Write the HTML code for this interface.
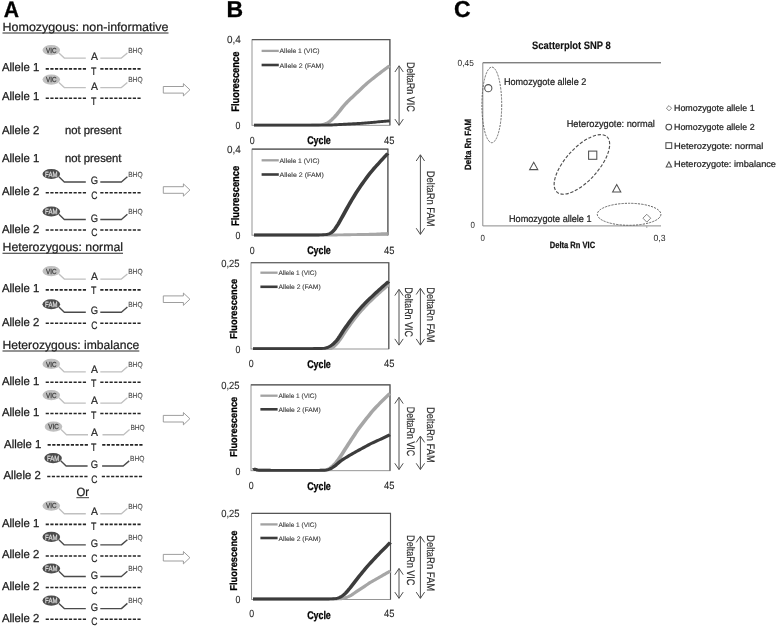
<!DOCTYPE html>
<html lang="en">
<head>
<meta charset="utf-8">
<title>Allele-specific qPCR: genotype patterns, amplification curves and scatterplot</title>
<style>
html,body{margin:0;padding:0;background:#fff;}
body{width:778px;height:627px;overflow:hidden;font-family:'Liberation Sans', sans-serif;}
svg{display:block;font-family:"Liberation Sans",sans-serif;filter:grayscale(1);}
svg text{font-family:"Liberation Sans",sans-serif;white-space:pre;text-rendering:geometricPrecision;}
</style>
</head>
<body>
<svg width="778" height="627" viewBox="0 0 778 627">
<rect width="778" height="627" fill="#fff"/>
<g id="panelA">
<text x="3.70" y="17.30" font-size="22.2" fill="#000" stroke="#000" stroke-width="0.3" font-weight="700" textLength="15.30" lengthAdjust="spacingAndGlyphs">A</text>
<text x="2.50" y="31.20" font-size="12.0" fill="#1c1c1c" stroke="#1c1c1c" stroke-width="0.22" textLength="166.00" lengthAdjust="spacingAndGlyphs">Homozygous: non-informative</text>
<path d="M2.50 33.00 H168.50" stroke="#2a2a2a" stroke-width="1.1"/>
<ellipse cx="51.30" cy="50.10" rx="8.8" ry="5.1" fill="#c0c0c0"/>
<text x="46.00" y="52.70" font-size="7.3" fill="#383838" stroke="#383838" stroke-width="0.25" textLength="10.50" lengthAdjust="spacingAndGlyphs">VIC</text>
<path d="M58.90 52.90 L64.30 58.10 L85.80 58.10" fill="none" stroke="#c0c0c0" stroke-width="1.35" stroke-linejoin="round"/>
<path d="M100.30 58.10 L121.40 58.10 L127.40 52.90" fill="none" stroke="#c0c0c0" stroke-width="1.35" stroke-linejoin="round"/>
<text x="90.90" y="59.70" font-size="10.8" fill="#1c1c1c" stroke="#1c1c1c" stroke-width="0.2" textLength="6.90" lengthAdjust="spacingAndGlyphs">A</text>
<text x="128.20" y="52.95" font-size="7.4" fill="#4c4c4c" stroke="#4c4c4c" stroke-width="0.12" textLength="14.40" lengthAdjust="spacingAndGlyphs">BHQ</text>
<text x="2.00" y="71.00" font-size="11.6" fill="#1c1c1c" stroke="#1c1c1c" stroke-width="0.28" textLength="37.20" lengthAdjust="spacingAndGlyphs">Allele 1</text>
<path d="M45.70 68.90 H86.20 M100.30 68.90 H140.80" stroke="#262626" stroke-width="1.6" stroke-dasharray="3.2 1.44" fill="none"/>
<text x="91.00" y="74.50" font-size="10.8" fill="#1c1c1c" stroke="#1c1c1c" stroke-width="0.2" textLength="5.40" lengthAdjust="spacingAndGlyphs">T</text>
<ellipse cx="51.30" cy="79.60" rx="8.8" ry="5.1" fill="#c0c0c0"/>
<text x="46.00" y="82.20" font-size="7.3" fill="#383838" stroke="#383838" stroke-width="0.25" textLength="10.50" lengthAdjust="spacingAndGlyphs">VIC</text>
<path d="M58.90 82.40 L64.30 87.60 L85.80 87.60" fill="none" stroke="#c0c0c0" stroke-width="1.35" stroke-linejoin="round"/>
<path d="M100.30 87.60 L121.40 87.60 L127.40 82.40" fill="none" stroke="#c0c0c0" stroke-width="1.35" stroke-linejoin="round"/>
<text x="90.90" y="90.10" font-size="10.8" fill="#1c1c1c" stroke="#1c1c1c" stroke-width="0.2" textLength="6.90" lengthAdjust="spacingAndGlyphs">A</text>
<text x="128.20" y="82.45" font-size="7.4" fill="#4c4c4c" stroke="#4c4c4c" stroke-width="0.12" textLength="14.40" lengthAdjust="spacingAndGlyphs">BHQ</text>
<text x="2.00" y="100.40" font-size="11.6" fill="#1c1c1c" stroke="#1c1c1c" stroke-width="0.28" textLength="37.20" lengthAdjust="spacingAndGlyphs">Allele 1</text>
<path d="M45.70 98.30 H86.20 M100.30 98.30 H140.80" stroke="#262626" stroke-width="1.6" stroke-dasharray="3.2 1.44" fill="none"/>
<text x="91.00" y="104.80" font-size="10.8" fill="#1c1c1c" stroke="#1c1c1c" stroke-width="0.2" textLength="5.40" lengthAdjust="spacingAndGlyphs">T</text>
<text x="2.00" y="133.60" font-size="11.6" fill="#1c1c1c" stroke="#1c1c1c" stroke-width="0.28" textLength="37.20" lengthAdjust="spacingAndGlyphs">Allele 2</text>
<text x="65.00" y="133.60" font-size="11.6" fill="#1c1c1c" stroke="#1c1c1c" stroke-width="0.28" textLength="56.50" lengthAdjust="spacingAndGlyphs">not present</text>
<text x="2.00" y="162.00" font-size="11.6" fill="#1c1c1c" stroke="#1c1c1c" stroke-width="0.28" textLength="37.20" lengthAdjust="spacingAndGlyphs">Allele 1</text>
<text x="65.00" y="162.00" font-size="11.6" fill="#1c1c1c" stroke="#1c1c1c" stroke-width="0.28" textLength="56.50" lengthAdjust="spacingAndGlyphs">not present</text>
<ellipse cx="51.30" cy="174.00" rx="8.8" ry="5.1" fill="#4c4c4c"/>
<text x="45.10" y="176.70" font-size="7.5" fill="#dedede" stroke="#dedede" stroke-width="0.25" textLength="12.40" lengthAdjust="spacingAndGlyphs">FAM</text>
<path d="M58.90 176.80 L64.30 182.00 L85.80 182.00" fill="none" stroke="#4a4a4a" stroke-width="1.4" stroke-linejoin="round"/>
<path d="M100.30 182.00 L121.40 182.00 L127.40 176.80" fill="none" stroke="#4a4a4a" stroke-width="1.4" stroke-linejoin="round"/>
<text x="90.80" y="183.80" font-size="10.8" fill="#1c1c1c" stroke="#1c1c1c" stroke-width="0.2" textLength="7.30" lengthAdjust="spacingAndGlyphs">G</text>
<text x="128.20" y="176.85" font-size="7.4" fill="#4c4c4c" stroke="#4c4c4c" stroke-width="0.12" textLength="14.40" lengthAdjust="spacingAndGlyphs">BHQ</text>
<text x="2.00" y="194.90" font-size="11.6" fill="#1c1c1c" stroke="#1c1c1c" stroke-width="0.28" textLength="37.20" lengthAdjust="spacingAndGlyphs">Allele 2</text>
<path d="M45.70 192.80 H86.20 M100.30 192.80 H140.80" stroke="#262626" stroke-width="1.6" stroke-dasharray="3.2 1.44" fill="none"/>
<text x="91.30" y="198.70" font-size="10.8" fill="#1c1c1c" stroke="#1c1c1c" stroke-width="0.2" textLength="6.20" lengthAdjust="spacingAndGlyphs">C</text>
<ellipse cx="51.30" cy="211.50" rx="8.8" ry="5.1" fill="#4c4c4c"/>
<text x="45.10" y="214.20" font-size="7.5" fill="#dedede" stroke="#dedede" stroke-width="0.25" textLength="12.40" lengthAdjust="spacingAndGlyphs">FAM</text>
<path d="M58.90 214.30 L64.30 219.50 L85.80 219.50" fill="none" stroke="#4a4a4a" stroke-width="1.4" stroke-linejoin="round"/>
<path d="M100.30 219.50 L121.40 219.50 L127.40 214.30" fill="none" stroke="#4a4a4a" stroke-width="1.4" stroke-linejoin="round"/>
<text x="90.80" y="221.50" font-size="10.8" fill="#1c1c1c" stroke="#1c1c1c" stroke-width="0.2" textLength="7.30" lengthAdjust="spacingAndGlyphs">G</text>
<text x="128.20" y="214.35" font-size="7.4" fill="#4c4c4c" stroke="#4c4c4c" stroke-width="0.12" textLength="14.40" lengthAdjust="spacingAndGlyphs">BHQ</text>
<text x="2.00" y="232.50" font-size="11.6" fill="#1c1c1c" stroke="#1c1c1c" stroke-width="0.28" textLength="37.20" lengthAdjust="spacingAndGlyphs">Allele 2</text>
<path d="M45.70 230.00 H86.20 M100.30 230.00 H140.80" stroke="#262626" stroke-width="1.6" stroke-dasharray="3.2 1.44" fill="none"/>
<text x="91.30" y="236.20" font-size="10.8" fill="#1c1c1c" stroke="#1c1c1c" stroke-width="0.2" textLength="6.20" lengthAdjust="spacingAndGlyphs">C</text>
<text x="2.50" y="250.60" font-size="12.0" fill="#1c1c1c" stroke="#1c1c1c" stroke-width="0.22" textLength="120.50" lengthAdjust="spacingAndGlyphs">Heterozygous: normal</text>
<path d="M2.50 253.20 H123.00" stroke="#2a2a2a" stroke-width="1.1"/>
<ellipse cx="51.30" cy="271.10" rx="8.8" ry="5.1" fill="#c0c0c0"/>
<text x="46.00" y="273.70" font-size="7.3" fill="#383838" stroke="#383838" stroke-width="0.25" textLength="10.50" lengthAdjust="spacingAndGlyphs">VIC</text>
<path d="M58.90 273.90 L64.30 279.10 L85.80 279.10" fill="none" stroke="#c0c0c0" stroke-width="1.35" stroke-linejoin="round"/>
<path d="M100.30 279.10 L121.40 279.10 L127.40 273.90" fill="none" stroke="#c0c0c0" stroke-width="1.35" stroke-linejoin="round"/>
<text x="90.90" y="279.70" font-size="10.8" fill="#1c1c1c" stroke="#1c1c1c" stroke-width="0.2" textLength="6.90" lengthAdjust="spacingAndGlyphs">A</text>
<text x="128.20" y="273.95" font-size="7.4" fill="#4c4c4c" stroke="#4c4c4c" stroke-width="0.12" textLength="14.40" lengthAdjust="spacingAndGlyphs">BHQ</text>
<text x="2.00" y="292.40" font-size="11.6" fill="#1c1c1c" stroke="#1c1c1c" stroke-width="0.28" textLength="37.20" lengthAdjust="spacingAndGlyphs">Allele 1</text>
<path d="M45.70 289.90 H86.20 M100.30 289.90 H140.80" stroke="#262626" stroke-width="1.6" stroke-dasharray="3.2 1.44" fill="none"/>
<text x="91.00" y="293.90" font-size="10.8" fill="#1c1c1c" stroke="#1c1c1c" stroke-width="0.2" textLength="5.40" lengthAdjust="spacingAndGlyphs">T</text>
<ellipse cx="51.30" cy="304.25" rx="8.8" ry="5.1" fill="#4c4c4c"/>
<text x="45.10" y="306.95" font-size="7.5" fill="#dedede" stroke="#dedede" stroke-width="0.25" textLength="12.40" lengthAdjust="spacingAndGlyphs">FAM</text>
<path d="M58.90 307.05 L64.30 312.25 L85.80 312.25" fill="none" stroke="#4a4a4a" stroke-width="1.4" stroke-linejoin="round"/>
<path d="M100.30 312.25 L121.40 312.25 L127.40 307.05" fill="none" stroke="#4a4a4a" stroke-width="1.4" stroke-linejoin="round"/>
<text x="90.80" y="313.80" font-size="10.8" fill="#1c1c1c" stroke="#1c1c1c" stroke-width="0.2" textLength="7.30" lengthAdjust="spacingAndGlyphs">G</text>
<text x="128.20" y="307.10" font-size="7.4" fill="#4c4c4c" stroke="#4c4c4c" stroke-width="0.12" textLength="14.40" lengthAdjust="spacingAndGlyphs">BHQ</text>
<text x="2.00" y="326.15" font-size="11.6" fill="#1c1c1c" stroke="#1c1c1c" stroke-width="0.28" textLength="37.20" lengthAdjust="spacingAndGlyphs">Allele 2</text>
<path d="M45.70 323.30 H86.20 M100.30 323.30 H140.80" stroke="#262626" stroke-width="1.6" stroke-dasharray="3.2 1.44" fill="none"/>
<text x="91.30" y="328.50" font-size="10.8" fill="#1c1c1c" stroke="#1c1c1c" stroke-width="0.2" textLength="6.20" lengthAdjust="spacingAndGlyphs">C</text>
<text x="2.50" y="349.20" font-size="12.0" fill="#1c1c1c" stroke="#1c1c1c" stroke-width="0.22" textLength="136.80" lengthAdjust="spacingAndGlyphs">Heterozygous: imbalance</text>
<path d="M2.50 351.00 H139.30" stroke="#2a2a2a" stroke-width="1.1"/>
<ellipse cx="51.30" cy="363.90" rx="8.8" ry="5.1" fill="#c0c0c0"/>
<text x="46.00" y="366.50" font-size="7.3" fill="#383838" stroke="#383838" stroke-width="0.25" textLength="10.50" lengthAdjust="spacingAndGlyphs">VIC</text>
<path d="M58.90 366.70 L64.30 371.90 L85.80 371.90" fill="none" stroke="#c0c0c0" stroke-width="1.35" stroke-linejoin="round"/>
<path d="M100.30 371.90 L121.40 371.90 L127.40 366.70" fill="none" stroke="#c0c0c0" stroke-width="1.35" stroke-linejoin="round"/>
<text x="90.90" y="372.60" font-size="10.8" fill="#1c1c1c" stroke="#1c1c1c" stroke-width="0.2" textLength="6.90" lengthAdjust="spacingAndGlyphs">A</text>
<text x="128.20" y="366.75" font-size="7.4" fill="#4c4c4c" stroke="#4c4c4c" stroke-width="0.12" textLength="14.40" lengthAdjust="spacingAndGlyphs">BHQ</text>
<text x="2.00" y="385.15" font-size="11.6" fill="#1c1c1c" stroke="#1c1c1c" stroke-width="0.28" textLength="37.20" lengthAdjust="spacingAndGlyphs">Allele 1</text>
<path d="M45.70 382.30 H86.20 M100.30 382.30 H140.80" stroke="#262626" stroke-width="1.6" stroke-dasharray="3.2 1.44" fill="none"/>
<text x="91.00" y="387.20" font-size="10.8" fill="#1c1c1c" stroke="#1c1c1c" stroke-width="0.2" textLength="5.40" lengthAdjust="spacingAndGlyphs">T</text>
<ellipse cx="51.30" cy="395.05" rx="8.8" ry="5.1" fill="#c0c0c0"/>
<text x="46.00" y="397.65" font-size="7.3" fill="#383838" stroke="#383838" stroke-width="0.25" textLength="10.50" lengthAdjust="spacingAndGlyphs">VIC</text>
<path d="M58.90 397.85 L64.30 403.05 L85.80 403.05" fill="none" stroke="#c0c0c0" stroke-width="1.35" stroke-linejoin="round"/>
<path d="M100.30 403.05 L121.40 403.05 L127.40 397.85" fill="none" stroke="#c0c0c0" stroke-width="1.35" stroke-linejoin="round"/>
<text x="90.90" y="403.90" font-size="10.8" fill="#1c1c1c" stroke="#1c1c1c" stroke-width="0.2" textLength="6.90" lengthAdjust="spacingAndGlyphs">A</text>
<text x="128.20" y="397.90" font-size="7.4" fill="#4c4c4c" stroke="#4c4c4c" stroke-width="0.12" textLength="14.40" lengthAdjust="spacingAndGlyphs">BHQ</text>
<text x="2.00" y="416.20" font-size="11.6" fill="#1c1c1c" stroke="#1c1c1c" stroke-width="0.28" textLength="37.20" lengthAdjust="spacingAndGlyphs">Allele 1</text>
<path d="M45.70 413.50 H86.20 M100.30 413.50 H140.80" stroke="#262626" stroke-width="1.6" stroke-dasharray="3.2 1.44" fill="none"/>
<text x="91.00" y="418.50" font-size="10.8" fill="#1c1c1c" stroke="#1c1c1c" stroke-width="0.2" textLength="5.40" lengthAdjust="spacingAndGlyphs">T</text>
<ellipse cx="53.50" cy="426.70" rx="8.8" ry="5.1" fill="#c0c0c0"/>
<text x="48.20" y="429.30" font-size="7.3" fill="#383838" stroke="#383838" stroke-width="0.25" textLength="10.50" lengthAdjust="spacingAndGlyphs">VIC</text>
<path d="M61.10 429.50 L66.50 434.70 L88.00 434.70" fill="none" stroke="#c0c0c0" stroke-width="1.35" stroke-linejoin="round"/>
<path d="M102.50 434.70 L123.60 434.70 L129.60 429.50" fill="none" stroke="#c0c0c0" stroke-width="1.35" stroke-linejoin="round"/>
<text x="90.90" y="435.90" font-size="10.8" fill="#1c1c1c" stroke="#1c1c1c" stroke-width="0.2" textLength="6.90" lengthAdjust="spacingAndGlyphs">A</text>
<text x="130.40" y="429.55" font-size="7.4" fill="#4c4c4c" stroke="#4c4c4c" stroke-width="0.12" textLength="14.40" lengthAdjust="spacingAndGlyphs">BHQ</text>
<text x="4.10" y="447.60" font-size="11.6" fill="#1c1c1c" stroke="#1c1c1c" stroke-width="0.28" textLength="37.20" lengthAdjust="spacingAndGlyphs">Allele 1</text>
<path d="M47.60 444.90 H88.10 M102.20 444.90 H142.70" stroke="#262626" stroke-width="1.6" stroke-dasharray="3.2 1.44" fill="none"/>
<text x="91.00" y="450.60" font-size="10.8" fill="#1c1c1c" stroke="#1c1c1c" stroke-width="0.2" textLength="5.40" lengthAdjust="spacingAndGlyphs">T</text>
<ellipse cx="53.10" cy="458.05" rx="8.8" ry="5.1" fill="#4c4c4c"/>
<text x="46.90" y="460.75" font-size="7.5" fill="#dedede" stroke="#dedede" stroke-width="0.25" textLength="12.40" lengthAdjust="spacingAndGlyphs">FAM</text>
<path d="M60.70 460.85 L66.10 466.05 L87.60 466.05" fill="none" stroke="#4a4a4a" stroke-width="1.4" stroke-linejoin="round"/>
<path d="M102.10 466.05 L123.20 466.05 L129.20 460.85" fill="none" stroke="#4a4a4a" stroke-width="1.4" stroke-linejoin="round"/>
<text x="90.80" y="468.30" font-size="10.8" fill="#1c1c1c" stroke="#1c1c1c" stroke-width="0.2" textLength="7.30" lengthAdjust="spacingAndGlyphs">G</text>
<text x="130.00" y="460.90" font-size="7.4" fill="#4c4c4c" stroke="#4c4c4c" stroke-width="0.12" textLength="14.40" lengthAdjust="spacingAndGlyphs">BHQ</text>
<text x="3.50" y="478.60" font-size="11.6" fill="#1c1c1c" stroke="#1c1c1c" stroke-width="0.28" textLength="37.20" lengthAdjust="spacingAndGlyphs">Allele 2</text>
<path d="M47.20 476.50 H87.70 M101.80 476.50 H142.30" stroke="#262626" stroke-width="1.6" stroke-dasharray="3.2 1.44" fill="none"/>
<text x="91.30" y="483.00" font-size="10.8" fill="#1c1c1c" stroke="#1c1c1c" stroke-width="0.2" textLength="6.20" lengthAdjust="spacingAndGlyphs">C</text>
<text x="76.40" y="496.20" font-size="12.0" fill="#1c1c1c" stroke="#1c1c1c" stroke-width="0.22" textLength="12.60" lengthAdjust="spacingAndGlyphs">Or</text>
<path d="M76.4 497.7 H89.0" stroke="#2a2a2a" stroke-width="0.9"/>
<ellipse cx="51.30" cy="505.75" rx="8.8" ry="5.1" fill="#c0c0c0"/>
<text x="46.00" y="508.35" font-size="7.3" fill="#383838" stroke="#383838" stroke-width="0.25" textLength="10.50" lengthAdjust="spacingAndGlyphs">VIC</text>
<path d="M58.90 508.55 L64.30 513.75 L85.80 513.75" fill="none" stroke="#c0c0c0" stroke-width="1.35" stroke-linejoin="round"/>
<path d="M100.30 513.75 L121.40 513.75 L127.40 508.55" fill="none" stroke="#c0c0c0" stroke-width="1.35" stroke-linejoin="round"/>
<text x="90.90" y="515.30" font-size="10.8" fill="#1c1c1c" stroke="#1c1c1c" stroke-width="0.2" textLength="6.90" lengthAdjust="spacingAndGlyphs">A</text>
<text x="128.20" y="508.60" font-size="7.4" fill="#4c4c4c" stroke="#4c4c4c" stroke-width="0.12" textLength="14.40" lengthAdjust="spacingAndGlyphs">BHQ</text>
<text x="2.00" y="526.50" font-size="11.6" fill="#1c1c1c" stroke="#1c1c1c" stroke-width="0.28" textLength="37.20" lengthAdjust="spacingAndGlyphs">Allele 1</text>
<path d="M45.70 524.40 H86.20 M100.30 524.40 H140.80" stroke="#262626" stroke-width="1.6" stroke-dasharray="3.2 1.44" fill="none"/>
<text x="91.00" y="530.10" font-size="10.8" fill="#1c1c1c" stroke="#1c1c1c" stroke-width="0.2" textLength="5.40" lengthAdjust="spacingAndGlyphs">T</text>
<ellipse cx="51.30" cy="536.90" rx="8.8" ry="5.1" fill="#4c4c4c"/>
<text x="45.10" y="539.60" font-size="7.5" fill="#dedede" stroke="#dedede" stroke-width="0.25" textLength="12.40" lengthAdjust="spacingAndGlyphs">FAM</text>
<path d="M58.90 539.70 L64.30 544.90 L85.80 544.90" fill="none" stroke="#4a4a4a" stroke-width="1.4" stroke-linejoin="round"/>
<path d="M100.30 544.90 L121.40 544.90 L127.40 539.70" fill="none" stroke="#4a4a4a" stroke-width="1.4" stroke-linejoin="round"/>
<text x="90.80" y="547.20" font-size="10.8" fill="#1c1c1c" stroke="#1c1c1c" stroke-width="0.2" textLength="7.30" lengthAdjust="spacingAndGlyphs">G</text>
<text x="128.20" y="539.75" font-size="7.4" fill="#4c4c4c" stroke="#4c4c4c" stroke-width="0.12" textLength="14.40" lengthAdjust="spacingAndGlyphs">BHQ</text>
<text x="2.00" y="558.40" font-size="11.6" fill="#1c1c1c" stroke="#1c1c1c" stroke-width="0.28" textLength="37.20" lengthAdjust="spacingAndGlyphs">Allele 2</text>
<path d="M45.70 556.00 H86.20 M100.30 556.00 H140.80" stroke="#262626" stroke-width="1.6" stroke-dasharray="3.2 1.44" fill="none"/>
<text x="91.30" y="562.30" font-size="10.8" fill="#1c1c1c" stroke="#1c1c1c" stroke-width="0.2" textLength="6.20" lengthAdjust="spacingAndGlyphs">C</text>
<ellipse cx="51.30" cy="568.50" rx="8.8" ry="5.1" fill="#4c4c4c"/>
<text x="45.10" y="571.20" font-size="7.5" fill="#dedede" stroke="#dedede" stroke-width="0.25" textLength="12.40" lengthAdjust="spacingAndGlyphs">FAM</text>
<path d="M58.90 571.30 L64.30 576.50 L85.80 576.50" fill="none" stroke="#4a4a4a" stroke-width="1.4" stroke-linejoin="round"/>
<path d="M100.30 576.50 L121.40 576.50 L127.40 571.30" fill="none" stroke="#4a4a4a" stroke-width="1.4" stroke-linejoin="round"/>
<text x="90.80" y="578.60" font-size="10.8" fill="#1c1c1c" stroke="#1c1c1c" stroke-width="0.2" textLength="7.30" lengthAdjust="spacingAndGlyphs">G</text>
<text x="128.20" y="571.35" font-size="7.4" fill="#4c4c4c" stroke="#4c4c4c" stroke-width="0.12" textLength="14.40" lengthAdjust="spacingAndGlyphs">BHQ</text>
<text x="2.00" y="589.60" font-size="11.6" fill="#1c1c1c" stroke="#1c1c1c" stroke-width="0.28" textLength="37.20" lengthAdjust="spacingAndGlyphs">Allele 2</text>
<path d="M45.70 587.50 H86.20 M100.30 587.50 H140.80" stroke="#262626" stroke-width="1.6" stroke-dasharray="3.2 1.44" fill="none"/>
<text x="91.30" y="593.75" font-size="10.8" fill="#1c1c1c" stroke="#1c1c1c" stroke-width="0.2" textLength="6.20" lengthAdjust="spacingAndGlyphs">C</text>
<ellipse cx="51.30" cy="600.60" rx="8.8" ry="5.1" fill="#4c4c4c"/>
<text x="45.10" y="603.30" font-size="7.5" fill="#dedede" stroke="#dedede" stroke-width="0.25" textLength="12.40" lengthAdjust="spacingAndGlyphs">FAM</text>
<path d="M58.90 603.40 L64.30 608.60 L85.80 608.60" fill="none" stroke="#4a4a4a" stroke-width="1.4" stroke-linejoin="round"/>
<path d="M100.30 608.60 L121.40 608.60 L127.40 603.40" fill="none" stroke="#4a4a4a" stroke-width="1.4" stroke-linejoin="round"/>
<text x="90.80" y="610.50" font-size="10.8" fill="#1c1c1c" stroke="#1c1c1c" stroke-width="0.2" textLength="7.30" lengthAdjust="spacingAndGlyphs">G</text>
<text x="128.20" y="603.45" font-size="7.4" fill="#4c4c4c" stroke="#4c4c4c" stroke-width="0.12" textLength="14.40" lengthAdjust="spacingAndGlyphs">BHQ</text>
<text x="2.00" y="621.90" font-size="11.6" fill="#1c1c1c" stroke="#1c1c1c" stroke-width="0.28" textLength="37.20" lengthAdjust="spacingAndGlyphs">Allele 2</text>
<path d="M45.70 619.30 H86.20 M100.30 619.30 H140.80" stroke="#262626" stroke-width="1.6" stroke-dasharray="3.2 1.44" fill="none"/>
<text x="91.30" y="625.40" font-size="10.8" fill="#1c1c1c" stroke="#1c1c1c" stroke-width="0.2" textLength="6.20" lengthAdjust="spacingAndGlyphs">C</text>
<path d="M163.3 86.50 H183.4 V83.65 L189.9 89.80 L183.4 95.95 V93.10 H163.3 Z" fill="#fff" stroke="#8c8c8c" stroke-width="0.85" stroke-linejoin="miter"/>
<path d="M163.3 186.70 H183.4 V183.85 L189.9 190.00 L183.4 196.15 V193.30 H163.3 Z" fill="#fff" stroke="#8c8c8c" stroke-width="0.85" stroke-linejoin="miter"/>
<path d="M163.3 295.90 H183.4 V293.05 L189.9 299.20 L183.4 305.35 V302.50 H163.3 Z" fill="#fff" stroke="#8c8c8c" stroke-width="0.85" stroke-linejoin="miter"/>
<path d="M163.3 415.40 H183.4 V412.55 L189.9 418.70 L183.4 424.85 V422.00 H163.3 Z" fill="#fff" stroke="#8c8c8c" stroke-width="0.85" stroke-linejoin="miter"/>
<path d="M163.3 554.40 H183.4 V551.55 L189.9 557.70 L183.4 563.85 V561.00 H163.3 Z" fill="#fff" stroke="#8c8c8c" stroke-width="0.85" stroke-linejoin="miter"/>
</g>
<g id="panelB">
<text x="226.50" y="17.20" font-size="23" fill="#000" stroke="#000" stroke-width="0.3" font-weight="700">B</text>
<rect x="252.0" y="39.6" width="137.90" height="85.70" fill="#fff" stroke="#8a8a8a" stroke-width="0.9"/>
<path d="M252.0 39.6 H389.9 V125.3" fill="none" stroke="#555" stroke-width="1.15"/>
<text x="227.00" y="43.40" font-size="10.4" fill="#2a2a2a" stroke="#2a2a2a" stroke-width="0.1" textLength="13.80" lengthAdjust="spacingAndGlyphs">0,4</text>
<text x="235.60" y="129.10" font-size="10.4" fill="#2a2a2a" stroke="#2a2a2a" stroke-width="0.1" textLength="4.90" lengthAdjust="spacingAndGlyphs">0</text>
<text transform="translate(239.00 111.80) rotate(-90)" font-size="10.9" fill="#000" stroke="#000" stroke-width="0.3" font-weight="700" textLength="60.20" lengthAdjust="spacingAndGlyphs">Fluorescence</text>
<text x="249.70" y="144.00" font-size="10.4" fill="#2a2a2a" stroke="#2a2a2a" stroke-width="0.1" textLength="4.90" lengthAdjust="spacingAndGlyphs">0</text>
<text x="384.00" y="144.00" font-size="10.4" fill="#2a2a2a" stroke="#2a2a2a" stroke-width="0.1" textLength="10.40" lengthAdjust="spacingAndGlyphs">45</text>
<text x="307.20" y="144.30" font-size="11.2" fill="#000" stroke="#000" stroke-width="0.3" font-weight="700" textLength="23.60" lengthAdjust="spacingAndGlyphs">Cycle</text>
<path d="M261.60 50.90 H278.80" stroke="#a2a2a2" stroke-width="2.3"/>
<path d="M261.60 65.00 H278.80" stroke="#3c3c3c" stroke-width="2.6"/>
<text x="279.60" y="53.40" font-size="6.6" fill="#3e3e3e" stroke="#3e3e3e" stroke-width="0.12" textLength="40.00" lengthAdjust="spacingAndGlyphs">Allele 1 (VIC)</text>
<text x="279.60" y="67.50" font-size="6.6" fill="#3e3e3e" stroke="#3e3e3e" stroke-width="0.12" textLength="44.20" lengthAdjust="spacingAndGlyphs">Allele 2 (FAM)</text>
<path transform="scale(1.35 1)" d="M188.148 125.10 L189.278 125.10 L190.409 125.10 L191.539 125.10 L192.669 125.10 L193.799 125.10 L194.930 125.10 L196.060 125.10 L197.190 125.10 L198.320 125.10 L199.451 125.10 L200.581 125.10 L201.711 125.10 L202.841 125.10 L203.972 125.10 L205.102 125.10 L206.232 125.10 L207.362 125.10 L208.493 125.10 L209.623 125.10 L210.753 125.10 L211.883 125.10 L213.014 125.10 L214.144 125.10 L215.274 125.10 L216.404 125.10 L217.535 125.10 L218.665 125.10 L219.795 125.10 L220.926 125.10 L222.056 125.10 L223.186 125.10 L224.316 125.10 L225.447 125.10 L226.577 125.09 L227.707 125.09 L228.837 125.09 L229.968 125.08 L231.098 125.07 L232.228 125.07 L233.358 125.06 L234.489 125.04 L235.619 124.97 L236.749 124.85 L237.879 124.68 L239.010 124.48 L240.140 124.13 L241.270 123.59 L242.400 122.92 L243.531 122.13 L244.661 121.01 L245.791 119.72 L246.921 118.24 L248.052 116.60 L249.182 114.90 L250.312 113.07 L251.442 111.15 L252.573 109.20 L253.703 107.28 L254.833 105.47 L255.963 103.79 L257.094 102.21 L258.224 100.69 L259.354 99.21 L260.484 97.77 L261.615 96.34 L262.745 94.91 L263.875 93.47 L265.005 92.01 L266.136 90.55 L267.266 89.08 L268.396 87.64 L269.526 86.21 L270.657 84.81 L271.787 83.44 L272.917 82.13 L274.047 80.85 L275.178 79.61 L276.308 78.40 L277.438 77.21 L278.568 76.03 L279.699 74.86 L280.829 73.69 L281.959 72.52 L283.089 71.36 L284.220 70.21 L285.350 69.07 L286.480 67.94 L287.610 66.81 L288.741 65.70" fill="none" stroke="#a6a6a6" stroke-width="2.9" stroke-linecap="butt" stroke-linejoin="round"/>
<path transform="scale(1.35 1)" d="M188.148 125.10 L189.278 125.10 L190.409 125.10 L191.539 125.10 L192.669 125.10 L193.799 125.10 L194.930 125.10 L196.060 125.10 L197.190 125.10 L198.320 125.10 L199.451 125.10 L200.581 125.10 L201.711 125.10 L202.841 125.10 L203.972 125.10 L205.102 125.10 L206.232 125.10 L207.362 125.10 L208.493 125.10 L209.623 125.10 L210.753 125.10 L211.883 125.10 L213.014 125.10 L214.144 125.10 L215.274 125.10 L216.404 125.10 L217.535 125.10 L218.665 125.10 L219.795 125.10 L220.926 125.10 L222.056 125.10 L223.186 125.10 L224.316 125.10 L225.447 125.10 L226.577 125.10 L227.707 125.10 L228.837 125.10 L229.968 125.10 L231.098 125.10 L232.228 125.10 L233.358 125.10 L234.489 125.10 L235.619 125.10 L236.749 125.10 L237.879 125.10 L239.010 125.10 L240.140 125.10 L241.270 125.10 L242.400 125.09 L243.531 125.06 L244.661 125.01 L245.791 124.94 L246.921 124.87 L248.052 124.78 L249.182 124.69 L250.312 124.61 L251.442 124.53 L252.573 124.45 L253.703 124.38 L254.833 124.30 L255.963 124.23 L257.094 124.15 L258.224 124.07 L259.354 123.99 L260.484 123.91 L261.615 123.82 L262.745 123.73 L263.875 123.64 L265.005 123.55 L266.136 123.45 L267.266 123.35 L268.396 123.24 L269.526 123.12 L270.657 123.00 L271.787 122.87 L272.917 122.74 L274.047 122.60 L275.178 122.47 L276.308 122.33 L277.438 122.20 L278.568 122.07 L279.699 121.93 L280.829 121.81 L281.959 121.68 L283.089 121.55 L284.220 121.42 L285.350 121.29 L286.480 121.16 L287.610 121.03 L288.741 120.90" fill="none" stroke="#3c3c3c" stroke-width="2.9" stroke-linecap="butt" stroke-linejoin="round"/>
<path d="M399.1 65.80 V125.30 M394.90000000000003 72.00 L399.1 65.80 L403.3 72.00 M394.90000000000003 119.10 L399.1 125.30 L403.3 119.10" fill="none" stroke="#505050" stroke-width="1.0" stroke-linejoin="miter"/>
<text transform="translate(406.60 61.90) rotate(90)" font-size="11.0" fill="#2e2e2e" stroke="#2e2e2e" stroke-width="0.18" textLength="49.80" lengthAdjust="spacingAndGlyphs">DeltaRn VIC</text>
<rect x="252.0" y="149.1" width="135.90" height="86.10" fill="#fff" stroke="#8a8a8a" stroke-width="0.9"/>
<path d="M252.0 149.1 H387.9 V235.2" fill="none" stroke="#555" stroke-width="1.15"/>
<text x="227.00" y="152.90" font-size="10.4" fill="#2a2a2a" stroke="#2a2a2a" stroke-width="0.1" textLength="13.80" lengthAdjust="spacingAndGlyphs">0,4</text>
<text x="235.60" y="239.00" font-size="10.4" fill="#2a2a2a" stroke="#2a2a2a" stroke-width="0.1" textLength="4.90" lengthAdjust="spacingAndGlyphs">0</text>
<text transform="translate(239.20 226.00) rotate(-90)" font-size="10.9" fill="#000" stroke="#000" stroke-width="0.3" font-weight="700" textLength="60.20" lengthAdjust="spacingAndGlyphs">Fluorescence</text>
<text x="249.70" y="253.70" font-size="10.4" fill="#2a2a2a" stroke="#2a2a2a" stroke-width="0.1" textLength="4.90" lengthAdjust="spacingAndGlyphs">0</text>
<text x="384.00" y="253.70" font-size="10.4" fill="#2a2a2a" stroke="#2a2a2a" stroke-width="0.1" textLength="10.40" lengthAdjust="spacingAndGlyphs">45</text>
<text x="307.20" y="254.20" font-size="11.2" fill="#000" stroke="#000" stroke-width="0.3" font-weight="700" textLength="23.60" lengthAdjust="spacingAndGlyphs">Cycle</text>
<path d="M261.60 160.30 H278.80" stroke="#a2a2a2" stroke-width="2.3"/>
<path d="M261.60 174.50 H278.80" stroke="#3c3c3c" stroke-width="2.6"/>
<text x="279.60" y="162.80" font-size="6.6" fill="#3e3e3e" stroke="#3e3e3e" stroke-width="0.12" textLength="40.00" lengthAdjust="spacingAndGlyphs">Allele 1 (VIC)</text>
<text x="279.60" y="177.00" font-size="6.6" fill="#3e3e3e" stroke="#3e3e3e" stroke-width="0.12" textLength="44.20" lengthAdjust="spacingAndGlyphs">Allele 2 (FAM)</text>
<path transform="scale(1.35 1)" d="M188.148 235.00 L189.262 235.00 L190.375 235.00 L191.489 235.00 L192.603 235.00 L193.716 235.00 L194.830 235.00 L195.943 235.00 L197.057 235.00 L198.171 235.00 L199.284 235.00 L200.398 235.00 L201.511 235.00 L202.625 235.00 L203.739 235.00 L204.852 235.00 L205.966 235.00 L207.079 235.00 L208.193 235.00 L209.307 235.00 L210.420 235.00 L211.534 235.00 L212.648 235.00 L213.761 235.00 L214.875 235.00 L215.988 235.00 L217.102 235.00 L218.216 235.00 L219.329 235.00 L220.443 235.00 L221.556 235.00 L222.670 235.00 L223.784 235.00 L224.897 235.00 L226.011 235.00 L227.124 235.00 L228.238 235.00 L229.352 235.00 L230.465 235.00 L231.579 235.00 L232.692 235.00 L233.806 235.00 L234.920 235.00 L236.033 235.00 L237.147 235.00 L238.261 235.00 L239.374 235.00 L240.488 235.00 L241.601 235.00 L242.715 235.00 L243.829 235.00 L244.942 235.00 L246.056 234.99 L247.169 234.98 L248.283 234.97 L249.397 234.95 L250.510 234.92 L251.624 234.90 L252.737 234.87 L253.851 234.84 L254.965 234.81 L256.078 234.78 L257.192 234.75 L258.305 234.72 L259.419 234.70 L260.533 234.67 L261.646 234.65 L262.760 234.62 L263.873 234.59 L264.987 234.57 L266.101 234.54 L267.214 234.51 L268.328 234.48 L269.442 234.45 L270.555 234.42 L271.669 234.38 L272.782 234.35 L273.896 234.31 L275.010 234.26 L276.123 234.21 L277.237 234.16 L278.350 234.10 L279.464 234.04 L280.578 233.97 L281.691 233.90 L282.805 233.82 L283.918 233.75 L285.032 233.67 L286.146 233.58 L287.259 233.50" fill="none" stroke="#a6a6a6" stroke-width="2.9" stroke-linecap="butt" stroke-linejoin="round"/>
<path transform="scale(1.35 1)" d="M188.148 235.00 L189.262 235.00 L190.375 235.00 L191.489 235.00 L192.603 235.00 L193.716 235.00 L194.830 235.00 L195.943 235.00 L197.057 235.00 L198.171 235.00 L199.284 235.00 L200.398 235.00 L201.511 235.00 L202.625 235.00 L203.739 235.00 L204.852 235.00 L205.966 235.00 L207.079 235.00 L208.193 235.00 L209.307 235.00 L210.420 235.00 L211.534 235.00 L212.648 235.00 L213.761 235.00 L214.875 235.00 L215.988 235.00 L217.102 235.00 L218.216 235.00 L219.329 235.00 L220.443 235.00 L221.556 235.00 L222.670 235.00 L223.784 235.00 L224.897 235.00 L226.011 235.00 L227.124 234.99 L228.238 234.99 L229.352 234.99 L230.465 234.98 L231.579 234.98 L232.692 234.97 L233.806 234.96 L234.920 234.96 L236.033 234.94 L237.147 234.90 L238.261 234.84 L239.374 234.75 L240.488 234.65 L241.601 234.49 L242.715 234.24 L243.829 233.89 L244.942 233.13 L246.056 232.01 L247.169 230.62 L248.283 228.66 L249.397 226.42 L250.510 224.06 L251.624 221.46 L252.737 218.77 L253.851 216.11 L254.965 213.39 L256.078 210.63 L257.192 207.89 L258.305 205.19 L259.419 202.59 L260.533 200.04 L261.646 197.54 L262.760 195.10 L263.873 192.71 L264.987 190.38 L266.101 188.12 L267.214 185.91 L268.328 183.75 L269.442 181.64 L270.555 179.57 L271.669 177.53 L272.782 175.53 L273.896 173.58 L275.010 171.70 L276.123 169.89 L277.237 168.15 L278.350 166.48 L279.464 164.83 L280.578 163.19 L281.691 161.54 L282.805 159.89 L283.918 158.25 L285.032 156.63 L286.146 155.01 L287.259 153.40" fill="none" stroke="#3c3c3c" stroke-width="2.9" stroke-linecap="butt" stroke-linejoin="round"/>
<path d="M420.4 154.80 V234.40 M416.2 161.00 L420.4 154.80 L424.59999999999997 161.00 M416.2 228.20 L420.4 234.40 L424.59999999999997 228.20" fill="none" stroke="#505050" stroke-width="1.0" stroke-linejoin="miter"/>
<text transform="translate(426.60 170.80) rotate(90)" font-size="11.0" fill="#2e2e2e" stroke="#2e2e2e" stroke-width="0.18" textLength="55.80" lengthAdjust="spacingAndGlyphs">DeltaRn FAM</text>
<rect x="251.0" y="262.7" width="137.80" height="86.30" fill="#fff" stroke="#8a8a8a" stroke-width="0.9"/>
<path d="M251.0 262.7 H388.8 V349.0" fill="none" stroke="#555" stroke-width="1.15"/>
<text x="221.20" y="266.50" font-size="10.4" fill="#2a2a2a" stroke="#2a2a2a" stroke-width="0.1" textLength="18.40" lengthAdjust="spacingAndGlyphs">0,25</text>
<text x="235.60" y="352.80" font-size="10.4" fill="#2a2a2a" stroke="#2a2a2a" stroke-width="0.1" textLength="4.90" lengthAdjust="spacingAndGlyphs">0</text>
<text transform="translate(236.70 339.00) rotate(-90)" font-size="10.0" fill="#000" stroke="#000" stroke-width="0.3" font-weight="700" textLength="60.20" lengthAdjust="spacingAndGlyphs">Fluorescence</text>
<text x="248.70" y="367.10" font-size="10.4" fill="#2a2a2a" stroke="#2a2a2a" stroke-width="0.1" textLength="4.90" lengthAdjust="spacingAndGlyphs">0</text>
<text x="384.00" y="367.10" font-size="10.4" fill="#2a2a2a" stroke="#2a2a2a" stroke-width="0.1" textLength="10.40" lengthAdjust="spacingAndGlyphs">45</text>
<text x="307.20" y="368.00" font-size="11.2" fill="#000" stroke="#000" stroke-width="0.3" font-weight="700" textLength="23.60" lengthAdjust="spacingAndGlyphs">Cycle</text>
<path d="M260.40 272.70 H277.60" stroke="#a2a2a2" stroke-width="2.3"/>
<path d="M260.40 286.80 H277.60" stroke="#3c3c3c" stroke-width="2.6"/>
<text x="278.40" y="275.20" font-size="6.6" fill="#3e3e3e" stroke="#3e3e3e" stroke-width="0.12" textLength="38.28" lengthAdjust="spacingAndGlyphs">Allele 1 (VIC)</text>
<text x="278.40" y="289.30" font-size="6.6" fill="#3e3e3e" stroke="#3e3e3e" stroke-width="0.12" textLength="42.30" lengthAdjust="spacingAndGlyphs">Allele 2 (FAM)</text>
<path transform="scale(1.35 1)" d="M187.407 348.60 L188.537 348.60 L189.666 348.60 L190.796 348.60 L191.925 348.60 L193.055 348.60 L194.184 348.60 L195.313 348.60 L196.443 348.60 L197.572 348.60 L198.702 348.60 L199.831 348.60 L200.960 348.60 L202.090 348.60 L203.219 348.60 L204.349 348.60 L205.478 348.60 L206.608 348.60 L207.737 348.60 L208.866 348.60 L209.996 348.60 L211.125 348.60 L212.255 348.60 L213.384 348.60 L214.514 348.60 L215.643 348.60 L216.772 348.60 L217.902 348.60 L219.031 348.60 L220.161 348.60 L221.290 348.60 L222.419 348.60 L223.549 348.60 L224.678 348.60 L225.808 348.60 L226.937 348.60 L228.067 348.60 L229.196 348.60 L230.325 348.60 L231.455 348.60 L232.584 348.60 L233.714 348.60 L234.843 348.60 L235.973 348.60 L237.102 348.60 L238.231 348.60 L239.361 348.60 L240.490 348.60 L241.620 348.60 L242.749 348.59 L243.878 348.55 L245.008 348.47 L246.137 347.76 L247.267 346.48 L248.396 345.11 L249.526 343.51 L250.655 341.65 L251.784 339.65 L252.914 337.39 L254.043 334.98 L255.173 332.62 L256.302 330.39 L257.432 328.20 L258.561 326.04 L259.690 323.93 L260.820 321.87 L261.949 319.84 L263.079 317.85 L264.208 315.92 L265.337 314.05 L266.467 312.25 L267.596 310.51 L268.726 308.82 L269.855 307.18 L270.985 305.58 L272.114 304.02 L273.243 302.50 L274.373 301.03 L275.502 299.57 L276.632 298.13 L277.761 296.69 L278.891 295.27 L280.020 293.86 L281.149 292.47 L282.279 291.11 L283.408 289.77 L284.538 288.45 L285.667 287.14 L286.797 285.86 L287.926 284.60" fill="none" stroke="#a6a6a6" stroke-width="2.9" stroke-linecap="butt" stroke-linejoin="round"/>
<path transform="scale(1.35 1)" d="M187.407 348.60 L188.537 348.60 L189.666 348.60 L190.796 348.60 L191.925 348.60 L193.055 348.60 L194.184 348.60 L195.313 348.60 L196.443 348.60 L197.572 348.60 L198.702 348.60 L199.831 348.60 L200.960 348.60 L202.090 348.60 L203.219 348.60 L204.349 348.60 L205.478 348.60 L206.608 348.60 L207.737 348.60 L208.866 348.60 L209.996 348.60 L211.125 348.60 L212.255 348.60 L213.384 348.60 L214.514 348.60 L215.643 348.60 L216.772 348.60 L217.902 348.60 L219.031 348.60 L220.161 348.60 L221.290 348.60 L222.419 348.60 L223.549 348.60 L224.678 348.60 L225.808 348.60 L226.937 348.59 L228.067 348.59 L229.196 348.59 L230.325 348.58 L231.455 348.58 L232.584 348.57 L233.714 348.56 L234.843 348.56 L235.973 348.54 L237.102 348.51 L238.231 348.45 L239.361 348.35 L240.490 348.23 L241.620 347.96 L242.749 347.36 L243.878 346.63 L245.008 345.79 L246.137 344.74 L247.267 343.50 L248.396 341.98 L249.526 340.16 L250.655 338.19 L251.784 335.99 L252.914 333.59 L254.043 331.21 L255.173 328.97 L256.302 326.76 L257.432 324.59 L258.561 322.48 L259.690 320.41 L260.820 318.37 L261.949 316.37 L263.079 314.43 L264.208 312.54 L265.337 310.73 L266.467 308.98 L267.596 307.28 L268.726 305.63 L269.855 304.02 L270.985 302.45 L272.114 300.92 L273.243 299.44 L274.373 297.98 L275.502 296.54 L276.632 295.10 L277.761 293.67 L278.891 292.27 L280.020 290.88 L281.149 289.50 L282.279 288.14 L283.408 286.79 L284.538 285.44 L285.667 284.12 L286.797 282.80 L287.926 281.50" fill="none" stroke="#3c3c3c" stroke-width="2.9" stroke-linecap="butt" stroke-linejoin="round"/>
<path d="M399.0 289.40 V345.10 M394.8 295.60 L399.0 289.40 L403.2 295.60 M394.8 338.90 L399.0 345.10 L403.2 338.90" fill="none" stroke="#505050" stroke-width="1.0" stroke-linejoin="miter"/>
<text transform="translate(404.90 287.30) rotate(90)" font-size="11.0" fill="#2e2e2e" stroke="#2e2e2e" stroke-width="0.18" textLength="49.60" lengthAdjust="spacingAndGlyphs">DeltaRn VIC</text>
<path d="M420.4 288.30 V345.10 M416.2 294.50 L420.4 288.30 L424.59999999999997 294.50 M416.2 338.90 L420.4 345.10 L424.59999999999997 338.90" fill="none" stroke="#505050" stroke-width="1.0" stroke-linejoin="miter"/>
<text transform="translate(427.00 287.30) rotate(90)" font-size="11.0" fill="#2e2e2e" stroke="#2e2e2e" stroke-width="0.18" textLength="55.20" lengthAdjust="spacingAndGlyphs">DeltaRn FAM</text>
<rect x="251.0" y="384.8" width="139.00" height="85.90" fill="#fff" stroke="#8a8a8a" stroke-width="0.9"/>
<path d="M251.0 384.8 H390.0 V470.7" fill="none" stroke="#555" stroke-width="1.15"/>
<text x="221.20" y="388.60" font-size="10.4" fill="#2a2a2a" stroke="#2a2a2a" stroke-width="0.1" textLength="18.40" lengthAdjust="spacingAndGlyphs">0,25</text>
<text x="235.60" y="474.50" font-size="10.4" fill="#2a2a2a" stroke="#2a2a2a" stroke-width="0.1" textLength="4.90" lengthAdjust="spacingAndGlyphs">0</text>
<text transform="translate(236.50 456.90) rotate(-90)" font-size="10.0" fill="#000" stroke="#000" stroke-width="0.3" font-weight="700" textLength="60.20" lengthAdjust="spacingAndGlyphs">Fluorescence</text>
<text x="248.70" y="489.30" font-size="10.4" fill="#2a2a2a" stroke="#2a2a2a" stroke-width="0.1" textLength="4.90" lengthAdjust="spacingAndGlyphs">0</text>
<text x="384.00" y="489.30" font-size="10.4" fill="#2a2a2a" stroke="#2a2a2a" stroke-width="0.1" textLength="10.40" lengthAdjust="spacingAndGlyphs">45</text>
<text x="307.20" y="489.70" font-size="11.2" fill="#000" stroke="#000" stroke-width="0.3" font-weight="700" textLength="23.60" lengthAdjust="spacingAndGlyphs">Cycle</text>
<path d="M260.40 395.70 H277.60" stroke="#a2a2a2" stroke-width="2.3"/>
<path d="M260.40 409.30 H277.60" stroke="#3c3c3c" stroke-width="2.6"/>
<text x="278.40" y="398.20" font-size="6.6" fill="#3e3e3e" stroke="#3e3e3e" stroke-width="0.12" textLength="38.28" lengthAdjust="spacingAndGlyphs">Allele 1 (VIC)</text>
<text x="278.40" y="411.80" font-size="6.6" fill="#3e3e3e" stroke="#3e3e3e" stroke-width="0.12" textLength="42.30" lengthAdjust="spacingAndGlyphs">Allele 2 (FAM)</text>
<path transform="scale(1.35 1)" d="M187.407 469.80 L188.547 469.24 L189.686 469.49 L190.826 470.15 L191.965 470.21 L193.104 470.23 L194.244 470.25 L195.383 470.27 L196.523 470.28 L197.662 470.29 L198.801 470.31 L199.941 470.32 L201.080 470.33 L202.220 470.34 L203.359 470.35 L204.499 470.36 L205.638 470.36 L206.777 470.37 L207.917 470.37 L209.056 470.38 L210.196 470.38 L211.335 470.39 L212.474 470.39 L213.614 470.39 L214.753 470.39 L215.893 470.40 L217.032 470.40 L218.171 470.40 L219.311 470.40 L220.450 470.40 L221.590 470.40 L222.729 470.40 L223.868 470.40 L225.008 470.40 L226.147 470.40 L227.287 470.39 L228.426 470.39 L229.566 470.39 L230.705 470.38 L231.844 470.37 L232.984 470.37 L234.123 470.36 L235.263 470.35 L236.402 470.34 L237.541 470.31 L238.681 470.26 L239.820 470.19 L240.960 470.09 L242.099 469.71 L243.238 468.97 L244.378 468.07 L245.517 467.05 L246.657 465.74 L247.796 464.22 L248.935 462.55 L250.075 460.58 L251.214 458.39 L252.354 456.12 L253.493 453.83 L254.633 451.42 L255.772 448.99 L256.911 446.60 L258.051 444.21 L259.190 441.82 L260.330 439.45 L261.469 437.11 L262.608 434.76 L263.748 432.44 L264.887 430.19 L266.027 428.05 L267.166 425.98 L268.305 423.97 L269.445 422.00 L270.584 420.05 L271.724 418.10 L272.863 416.15 L274.002 414.23 L275.142 412.35 L276.281 410.55 L277.421 408.83 L278.560 407.17 L279.700 405.56 L280.839 403.99 L281.978 402.43 L283.118 400.88 L284.257 399.36 L285.397 397.86 L286.536 396.38 L287.675 394.93 L288.815 393.50" fill="none" stroke="#a6a6a6" stroke-width="2.9" stroke-linecap="butt" stroke-linejoin="round"/>
<path transform="scale(1.35 1)" d="M187.407 469.80 L188.547 469.24 L189.686 469.49 L190.826 470.15 L191.965 470.21 L193.104 470.23 L194.244 470.25 L195.383 470.27 L196.523 470.28 L197.662 470.29 L198.801 470.31 L199.941 470.32 L201.080 470.33 L202.220 470.34 L203.359 470.35 L204.499 470.36 L205.638 470.36 L206.777 470.37 L207.917 470.37 L209.056 470.38 L210.196 470.38 L211.335 470.39 L212.474 470.39 L213.614 470.39 L214.753 470.39 L215.893 470.40 L217.032 470.40 L218.171 470.40 L219.311 470.40 L220.450 470.40 L221.590 470.40 L222.729 470.40 L223.868 470.40 L225.008 470.40 L226.147 470.40 L227.287 470.39 L228.426 470.39 L229.566 470.38 L230.705 470.38 L231.844 470.37 L232.984 470.37 L234.123 470.36 L235.263 470.35 L236.402 470.34 L237.541 470.32 L238.681 470.29 L239.820 470.25 L240.960 470.20 L242.099 469.97 L243.238 469.55 L244.378 469.02 L245.517 468.25 L246.657 467.25 L247.796 466.17 L248.935 464.93 L250.075 463.56 L251.214 462.22 L252.354 461.03 L253.493 459.96 L254.633 458.95 L255.772 457.99 L256.911 457.05 L258.051 456.12 L259.190 455.20 L260.330 454.30 L261.469 453.42 L262.608 452.55 L263.748 451.69 L264.887 450.83 L266.027 449.99 L267.166 449.16 L268.305 448.33 L269.445 447.49 L270.584 446.64 L271.724 445.79 L272.863 444.96 L274.002 444.15 L275.142 443.39 L276.281 442.66 L277.421 441.96 L278.560 441.27 L279.700 440.58 L280.839 439.87 L281.978 439.17 L283.118 438.47 L284.257 437.76 L285.397 437.04 L286.536 436.31 L287.675 435.56 L288.815 434.80" fill="none" stroke="#3c3c3c" stroke-width="2.9" stroke-linecap="butt" stroke-linejoin="round"/>
<path d="M399.0 397.40 V469.50 M394.8 403.60 L399.0 397.40 L403.2 403.60 M394.8 463.30 L399.0 469.50 L403.2 463.30" fill="none" stroke="#505050" stroke-width="1.0" stroke-linejoin="miter"/>
<text transform="translate(406.50 406.80) rotate(90)" font-size="11.0" fill="#2e2e2e" stroke="#2e2e2e" stroke-width="0.18" textLength="49.40" lengthAdjust="spacingAndGlyphs">DeltaRn VIC</text>
<path d="M420.4 436.20 V469.50 M416.2 442.40 L420.4 436.20 L424.59999999999997 442.40 M416.2 463.30 L420.4 469.50 L424.59999999999997 463.30" fill="none" stroke="#505050" stroke-width="1.0" stroke-linejoin="miter"/>
<text transform="translate(427.20 407.00) rotate(90)" font-size="11.0" fill="#2e2e2e" stroke="#2e2e2e" stroke-width="0.18" textLength="55.80" lengthAdjust="spacingAndGlyphs">DeltaRn FAM</text>
<rect x="251.6" y="513.4" width="138.90" height="86.10" fill="#fff" stroke="#8a8a8a" stroke-width="0.9"/>
<path d="M251.6 513.4 H390.5 V599.5" fill="none" stroke="#555" stroke-width="1.15"/>
<text x="221.20" y="517.20" font-size="10.4" fill="#2a2a2a" stroke="#2a2a2a" stroke-width="0.1" textLength="18.40" lengthAdjust="spacingAndGlyphs">0,25</text>
<text x="235.60" y="603.30" font-size="10.4" fill="#2a2a2a" stroke="#2a2a2a" stroke-width="0.1" textLength="4.90" lengthAdjust="spacingAndGlyphs">0</text>
<text transform="translate(236.70 590.70) rotate(-90)" font-size="10.0" fill="#000" stroke="#000" stroke-width="0.3" font-weight="700" textLength="60.20" lengthAdjust="spacingAndGlyphs">Fluorescence</text>
<text x="249.30" y="617.30" font-size="10.4" fill="#2a2a2a" stroke="#2a2a2a" stroke-width="0.1" textLength="4.90" lengthAdjust="spacingAndGlyphs">0</text>
<text x="384.00" y="617.30" font-size="10.4" fill="#2a2a2a" stroke="#2a2a2a" stroke-width="0.1" textLength="10.40" lengthAdjust="spacingAndGlyphs">45</text>
<text x="307.20" y="618.50" font-size="11.2" fill="#000" stroke="#000" stroke-width="0.3" font-weight="700" textLength="23.60" lengthAdjust="spacingAndGlyphs">Cycle</text>
<path d="M260.40 524.40 H277.60" stroke="#a2a2a2" stroke-width="2.3"/>
<path d="M260.40 538.00 H277.60" stroke="#3c3c3c" stroke-width="2.6"/>
<text x="278.40" y="526.90" font-size="6.6" fill="#3e3e3e" stroke="#3e3e3e" stroke-width="0.12" textLength="38.28" lengthAdjust="spacingAndGlyphs">Allele 1 (VIC)</text>
<text x="278.40" y="540.50" font-size="6.6" fill="#3e3e3e" stroke="#3e3e3e" stroke-width="0.12" textLength="42.30" lengthAdjust="spacingAndGlyphs">Allele 2 (FAM)</text>
<path transform="scale(1.35 1)" d="M187.407 599.00 L188.551 599.00 L189.695 599.00 L190.838 599.00 L191.982 599.00 L193.125 599.00 L194.269 599.00 L195.412 599.00 L196.556 599.00 L197.700 599.00 L198.843 599.00 L199.987 599.00 L201.130 599.00 L202.274 599.00 L203.417 599.00 L204.561 599.00 L205.705 599.00 L206.848 599.00 L207.992 599.00 L209.135 599.00 L210.279 599.00 L211.422 599.00 L212.566 599.00 L213.710 599.00 L214.853 599.00 L215.997 599.00 L217.140 599.00 L218.284 599.00 L219.427 599.00 L220.571 599.00 L221.715 599.00 L222.858 599.00 L224.002 599.00 L225.145 599.00 L226.289 599.00 L227.432 599.00 L228.576 599.00 L229.720 599.00 L230.863 599.00 L232.007 599.00 L233.150 599.00 L234.294 599.00 L235.437 599.00 L236.581 599.00 L237.725 599.00 L238.868 599.00 L240.012 599.00 L241.155 599.00 L242.299 599.00 L243.442 599.00 L244.586 599.00 L245.730 598.99 L246.873 598.98 L248.017 598.97 L249.160 598.94 L250.304 598.91 L251.447 598.85 L252.591 598.73 L253.734 598.42 L254.878 598.00 L256.022 597.56 L257.165 597.06 L258.309 596.46 L259.452 595.77 L260.596 594.87 L261.739 593.80 L262.883 592.71 L264.027 591.69 L265.170 590.68 L266.314 589.68 L267.457 588.67 L268.601 587.66 L269.744 586.62 L270.888 585.56 L272.032 584.50 L273.175 583.46 L274.319 582.47 L275.462 581.54 L276.606 580.66 L277.749 579.80 L278.893 578.95 L280.037 578.09 L281.180 577.20 L282.324 576.30 L283.467 575.40 L284.611 574.51 L285.754 573.62 L286.898 572.74 L288.042 571.87 L289.185 571.00" fill="none" stroke="#a6a6a6" stroke-width="2.9" stroke-linecap="butt" stroke-linejoin="round"/>
<path transform="scale(1.35 1)" d="M187.407 599.00 L188.551 599.00 L189.695 599.00 L190.838 599.00 L191.982 599.00 L193.125 599.00 L194.269 599.00 L195.412 599.00 L196.556 599.00 L197.700 599.00 L198.843 599.00 L199.987 599.00 L201.130 599.00 L202.274 599.00 L203.417 599.00 L204.561 599.00 L205.705 599.00 L206.848 599.00 L207.992 599.00 L209.135 599.00 L210.279 599.00 L211.422 599.00 L212.566 599.00 L213.710 599.00 L214.853 599.00 L215.997 599.00 L217.140 599.00 L218.284 599.00 L219.427 599.00 L220.571 599.00 L221.715 599.00 L222.858 599.00 L224.002 599.00 L225.145 599.00 L226.289 599.00 L227.432 599.00 L228.576 599.00 L229.720 598.99 L230.863 598.99 L232.007 598.99 L233.150 598.99 L234.294 598.99 L235.437 598.98 L236.581 598.98 L237.725 598.97 L238.868 598.97 L240.012 598.97 L241.155 598.96 L242.299 598.95 L243.442 598.94 L244.586 598.91 L245.730 598.85 L246.873 598.76 L248.017 598.65 L249.160 598.46 L250.304 598.05 L251.447 597.50 L252.591 596.76 L253.734 595.71 L254.878 594.49 L256.022 593.08 L257.165 591.40 L258.309 589.59 L259.452 587.75 L260.596 585.81 L261.739 583.77 L262.883 581.71 L264.027 579.69 L265.170 577.74 L266.314 575.81 L267.457 573.90 L268.601 572.02 L269.744 570.17 L270.888 568.35 L272.032 566.57 L273.175 564.82 L274.319 563.10 L275.462 561.40 L276.606 559.72 L277.749 558.07 L278.893 556.44 L280.037 554.83 L281.180 553.25 L282.324 551.67 L283.467 550.11 L284.611 548.56 L285.754 547.03 L286.898 545.50 L288.042 543.99 L289.185 542.50" fill="none" stroke="#3c3c3c" stroke-width="2.9" stroke-linecap="butt" stroke-linejoin="round"/>
<path d="M399.0 568.50 V598.30 M394.8 574.70 L399.0 568.50 L403.2 574.70 M394.8 592.10 L399.0 598.30 L403.2 592.10" fill="none" stroke="#505050" stroke-width="1.0" stroke-linejoin="miter"/>
<text transform="translate(406.90 535.10) rotate(90)" font-size="11.0" fill="#2e2e2e" stroke="#2e2e2e" stroke-width="0.18" textLength="50.30" lengthAdjust="spacingAndGlyphs">DeltaRn VIC</text>
<path d="M420.4 536.20 V598.30 M416.2 542.40 L420.4 536.20 L424.59999999999997 542.40 M416.2 592.10 L420.4 598.30 L424.59999999999997 592.10" fill="none" stroke="#505050" stroke-width="1.0" stroke-linejoin="miter"/>
<text transform="translate(427.20 535.10) rotate(90)" font-size="11.0" fill="#2e2e2e" stroke="#2e2e2e" stroke-width="0.18" textLength="56.00" lengthAdjust="spacingAndGlyphs">DeltaRn FAM</text>
</g>
<g id="panelC">
<text x="454.00" y="17.40" font-size="23" fill="#000" stroke="#000" stroke-width="0.3" font-weight="700">C</text>
<text x="532.00" y="49.20" font-size="10.8" fill="#111" stroke="#111" stroke-width="0.15" font-weight="700" textLength="78.80" lengthAdjust="spacingAndGlyphs">Scatterplot SNP 8</text>
<path d="M482.8 62.8 H661.0" stroke="#4a4a4a" stroke-width="1.0"/>
<path d="M482.8 62.8 V225.9 H661.0" fill="none" stroke="#8a8a8a" stroke-width="1.0"/>
<text x="457.60" y="65.70" font-size="8.9" fill="#2a2a2a" textLength="16.20" lengthAdjust="spacingAndGlyphs">0,45</text>
<text x="470.50" y="228.40" font-size="8.9" fill="#2a2a2a" textLength="4.40" lengthAdjust="spacingAndGlyphs">0</text>
<text x="480.50" y="240.50" font-size="8.9" fill="#2a2a2a" textLength="4.40" lengthAdjust="spacingAndGlyphs">0</text>
<text x="653.40" y="240.50" font-size="8.9" fill="#2a2a2a" textLength="12.10" lengthAdjust="spacingAndGlyphs">0,3</text>
<text x="549.80" y="248.40" font-size="9.0" fill="#111" stroke="#111" stroke-width="0.25" font-weight="700" textLength="45.30" lengthAdjust="spacingAndGlyphs">Delta Rn VIC</text>
<text transform="translate(471.10 170.00) rotate(-90)" font-size="9.0" fill="#111" stroke="#111" stroke-width="0.25" font-weight="700" textLength="51.10" lengthAdjust="spacingAndGlyphs">Delta Rn FAM</text>
<ellipse cx="491.8" cy="104.9" rx="9.9" ry="37.8" fill="none" stroke="#555" stroke-width="0.85" stroke-dasharray="2.2 1.1"/>
<ellipse cx="581.9" cy="164.4" rx="37.3" ry="16.4" transform="rotate(-48 581.9 164.4)" fill="none" stroke="#505050" stroke-width="1.15" stroke-dasharray="3.3 1.7"/>
<ellipse cx="629.1" cy="214.3" rx="31.8" ry="11" fill="none" stroke="#555" stroke-width="0.9" stroke-dasharray="2.2 1.1"/>
<circle cx="488.3" cy="88.2" r="3.6" fill="#fff" stroke="#505050" stroke-width="1.05"/>
<rect x="588.6" y="151.1" width="8.2" height="8.2" fill="#fff" stroke="#505050" stroke-width="1.05"/>
<path d="M533.7 162.3 L537.8 169.6 H529.6 Z" fill="#fff" stroke="#505050" stroke-width="1.05"/>
<path d="M616.7 184.6 L620.8 191.9 H612.6 Z" fill="#fff" stroke="#505050" stroke-width="1.05"/>
<path d="M646.8 225.9 V228.0" stroke="#a0a0a0" stroke-width="0.9"/>
<path d="M646.8 214.3 L650.7 218.2 L646.8 222.1 L642.9 218.2 Z" fill="#fff" stroke="#6e6e6e" stroke-width="0.85"/>
<text x="503.90" y="85.30" font-size="9.7" fill="#242424" stroke="#242424" stroke-width="0.24" textLength="82.40" lengthAdjust="spacingAndGlyphs">Homozygote allele 2</text>
<text x="566.70" y="127.30" font-size="9.7" fill="#242424" stroke="#242424" stroke-width="0.24" textLength="88.20" lengthAdjust="spacingAndGlyphs">Heterozygote: normal</text>
<text x="509.00" y="222.30" font-size="9.7" fill="#242424" stroke="#242424" stroke-width="0.24" textLength="82.50" lengthAdjust="spacingAndGlyphs">Homozygote allele 1</text>
<path d="M669.0 105.6 L671.6 108.2 L669.0 110.8 L666.4 108.2 Z" fill="#fff" stroke="#6e6e6e" stroke-width="0.85"/>
<circle cx="668.8" cy="127.1" r="2.9" fill="#fff" stroke="#505050" stroke-width="1.05"/>
<rect x="665.9" y="142.7" width="5.8" height="5.8" fill="#fff" stroke="#505050" stroke-width="1.05"/>
<path d="M668.9 161.8 L671.6 167.0 H666.2 Z" fill="#fff" stroke="#505050" stroke-width="1.05"/>
<text x="674.00" y="110.80" font-size="8.9" fill="#1e1e1e" stroke="#1e1e1e" stroke-width="0.22" textLength="80.60" lengthAdjust="spacingAndGlyphs">Homozygote allele 1</text>
<text x="674.00" y="129.70" font-size="8.9" fill="#1e1e1e" stroke="#1e1e1e" stroke-width="0.22" textLength="80.60" lengthAdjust="spacingAndGlyphs">Homozygote allele 2</text>
<text x="674.00" y="148.50" font-size="8.9" fill="#1e1e1e" stroke="#1e1e1e" stroke-width="0.22" textLength="89.40" lengthAdjust="spacingAndGlyphs">Heterozygote: normal</text>
<text x="674.00" y="167.20" font-size="8.9" fill="#1e1e1e" stroke="#1e1e1e" stroke-width="0.22" textLength="102.00" lengthAdjust="spacingAndGlyphs">Heterozygote: imbalance</text>
</g>
</svg>
</body>
</html>
